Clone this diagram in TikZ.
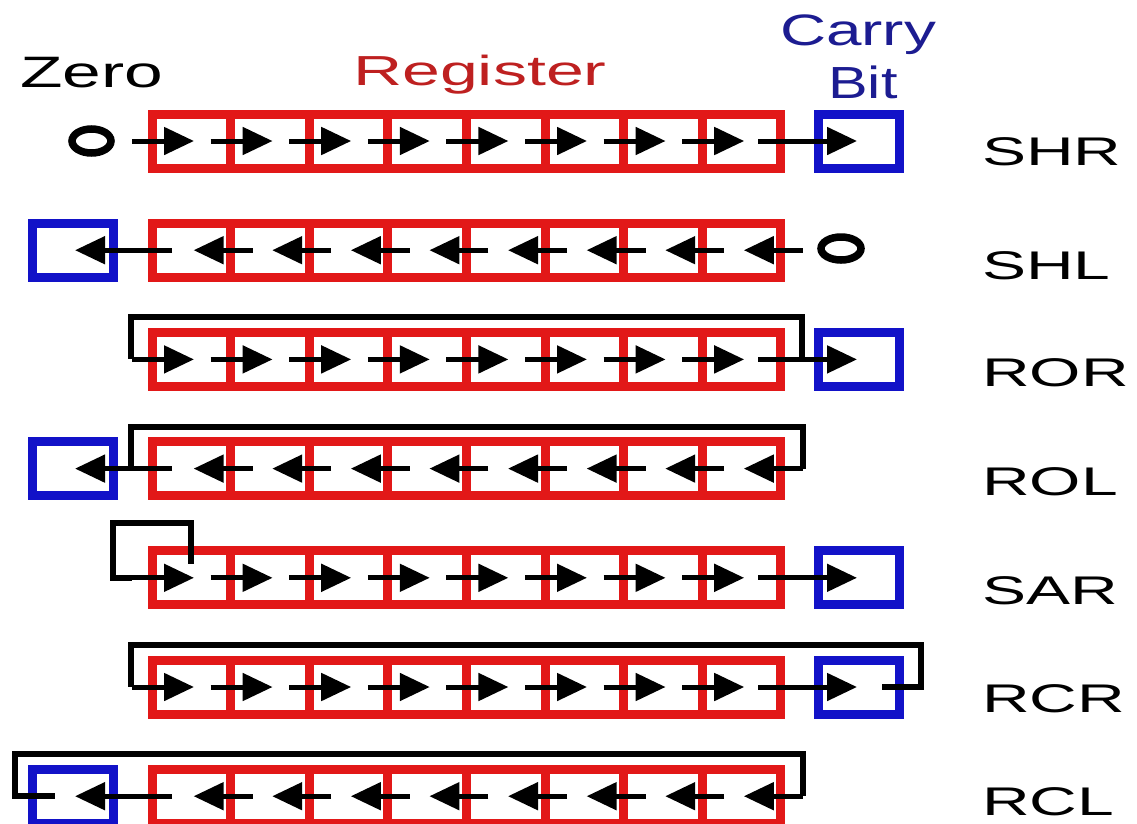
\documentclass[tikz,border=0pt]{standalone}
\usepackage{fontspec}
\setmainfont{Liberation Sans}
\usetikzlibrary{arrows.meta,shapes.geometric}
\definecolor{regred}{RGB}{226,24,24}
\definecolor{regtext}{RGB}{190,32,32}
\definecolor{bitblue}{RGB}{18,18,200}
\definecolor{bittext}{RGB}{28,28,145}
\begin{document}
\begin{tikzpicture}[x=1pt,y=-1pt,
  cell/.style={draw=regred, line width=9pt, minimum width=78.6pt, minimum height=54pt, inner sep=0pt, outer sep=0pt},
  cbox/.style={draw=bitblue, line width=9pt, minimum width=81pt, minimum height=54pt, inner sep=0pt, outer sep=0pt},
  sh/.style={line width=5pt, -{Triangle[length=30pt,width=27pt]}},
  loopline/.style={line width=6pt},
  zerobit/.style={draw, ellipse, line width=7.5pt, inner sep=0pt, outer sep=0pt},
  oplabel/.style={anchor=base west, inner sep=0pt, font=\fontsize{40pt}{40pt}\selectfont}]
\useasboundingbox (0,0) rectangle (1137,823);
\fill[white] (0,0) rectangle (1137,823);

% registers
\foreach \r/\yy in {1/141,2/250.2,3/359.4,4/468.6,5/577.8,6/687,7/796.2}{
  \foreach \i in {1,...,8}{
    \node[cell] (r\r-\i) at ({191.3+78.6*(\i-1)},\yy) {};
  }
}
% carry boxes
\node[cbox] (c1) at (859,141) {};
\node[cbox] (c3) at (859,359.4) {};
\node[cbox] (c5) at (859,577.8) {};
\node[cbox] (c6) at (859,687) {};
\node[cbox] (b2) at (72.5,250.2) {};
\node[cbox] (b4) at (72.5,468.6) {};
\node[cbox] (b7) at (72.5,796.2) {};

% zero inputs
\node[zerobit, minimum width=39pt, minimum height=24pt] (z1) at (91.5,141) {};
\node[zerobit, minimum width=40pt, minimum height=23pt] (z2) at (841,248.5) {};

% right-shifting rows
\foreach \r in {1,3,5,6}{
  \foreach \i in {1,...,8}{
    \draw[sh] ([xshift=-59.3pt]r\r-\i.center) -- ([xshift=2.7pt]r\r-\i.center);
  }
}
\foreach \c in {c1,c3,c5,c6}{
  \draw[sh] ([xshift=-101pt]\c.center) -- ([xshift=-2pt]\c.center);
}
% left-shifting rows
\foreach \r in {2,4,7}{
  \foreach \i in {1,...,8}{
    \draw[sh] ([xshift=61.3pt]r\r-\i.center) -- ([xshift=2.3pt]r\r-\i.center);
  }
}
\foreach \b in {b2,b4,b7}{
  \draw[sh] ([xshift=99.5pt]\b.center) -- ([xshift=2.5pt]\b.center);
}

% loops
\draw[loopline] ([xshift=60.5pt]r3-8.center) -- ++(0,-42) -| ([xshift=-60.3pt]r3-1.center);
\draw[loopline] ([xshift=-60.3pt]r4-1.center) -- ++(0,-42) -| ([xshift=61.3pt]r4-8.center);
\draw[loopline] ([yshift=14pt]r5-1.center) -- ++(0,-41) -| ([xshift=-78.3pt]r5-1.center) -- ([xshift=-59.3pt]r5-1.center);
\draw[loopline] ([xshift=23pt]c6.center) -- ([xshift=62pt]c6.center) -- ++(0,-42) -| ([xshift=-60.3pt]r6-1.center);
\draw[loopline] ([xshift=61.3pt]r7-8.center) -- ++(0,-42) -| ([xshift=-57.5pt]b7.center) -- ([xshift=-17.5pt]b7.center);

% titles
\node[anchor=base west, inner sep=0pt, font=\fontsize{44pt}{44pt}\selectfont] (tzero) at (20,87) {\scalebox{1.58}[1]{Zero}};
\node[anchor=base west, inner sep=0pt, text=regtext, font=\fontsize{42pt}{42pt}\selectfont] (treg) at (353,85) {\scalebox{1.62}[1]{Register}};
\node[anchor=base, inner sep=0pt, text=bittext, font=\fontsize{44pt}{44pt}\selectfont] (tcarry) at (858,45) {\scalebox{1.45}[1]{Carry}};
\node[anchor=base, inner sep=0pt, text=bittext, font=\fontsize{45pt}{45pt}\selectfont] (tbit) at (863,98) {\scalebox{1.32}[1]{Bit}};

% operation labels
\node[oplabel] (lshr) at (982,165) {\scalebox{1.65}[1]{SHR}};
\node[oplabel] (lshl) at (982,279) {\scalebox{1.65}[1]{SHL}};
\node[oplabel] (lror) at (982,386) {\scalebox{1.65}[1]{ROR}};
\node[oplabel] (lrol) at (982,495) {\scalebox{1.65}[1]{ROL}};
\node[oplabel] (lsar) at (982,604) {\scalebox{1.65}[1]{SAR}};
\node[oplabel] (lrcr) at (982,712) {\scalebox{1.65}[1]{RCR}};
\node[oplabel] (lrcl) at (982,815) {\scalebox{1.65}[1]{RCL}};
\end{tikzpicture}
\end{document}
